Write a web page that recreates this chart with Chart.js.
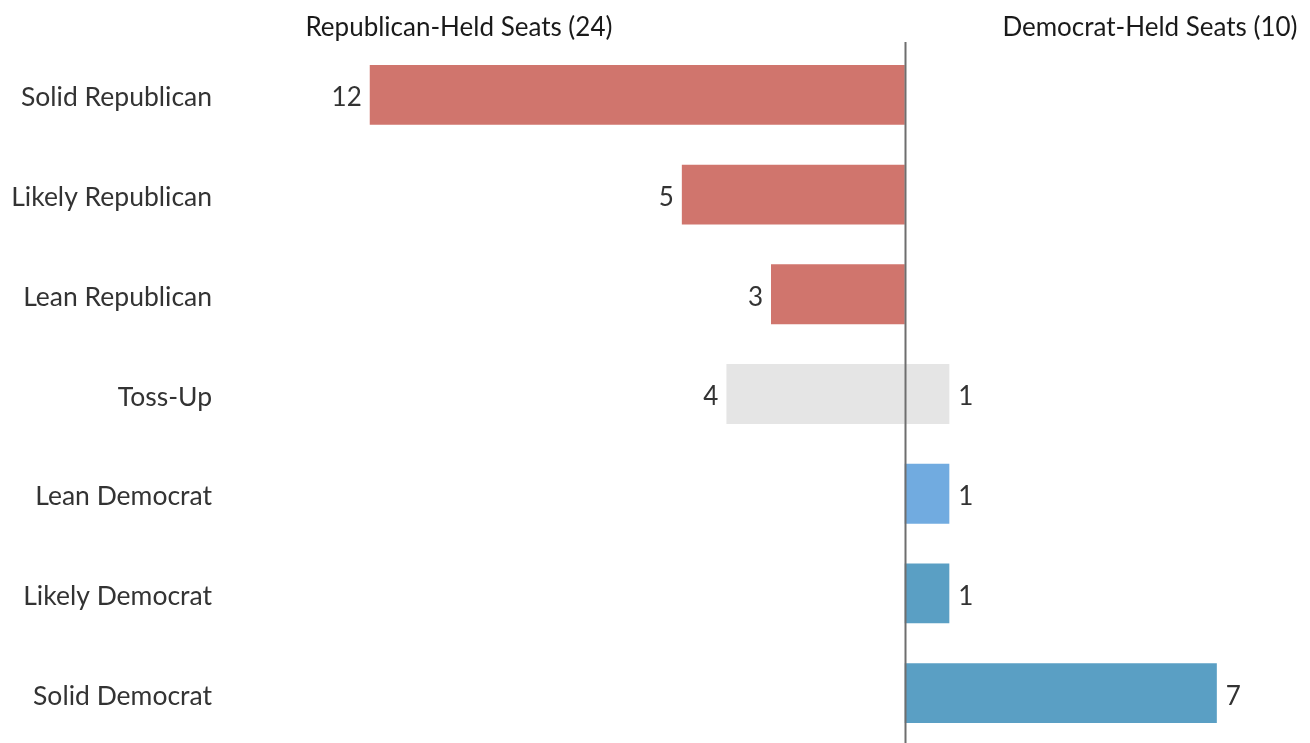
<!DOCTYPE html>
<html lang="en">
<head>
    <meta charset="UTF-8">
    <title>Seat ratings</title>
    <script src="https://cdn.jsdelivr.net/npm/chart.js"></script>
    <style>
        html, body {
            margin: 0;
            padding: 0;
            background: #ffffff;
        }
        .chart-box {
            width: 1310px;
            height: 743px;
        }
    </style>
</head>
<body>
    <div class="chart-box">
        <canvas id="seatsChart"></canvas>
    </div>

    <script>
        // Race ratings, top to bottom
        const ratings = ['Solid Republican', 'Likely Republican', 'Lean Republican', 'Toss-Up',
                         'Lean Democrat', 'Likely Democrat', 'Solid Democrat'];

        // Seats held by each party in every rating (Republican side is plotted to the left)
        const republicanHeld = [12, 5, 3, 4, 0, 0, 0];
        const democratHeld = [0, 0, 0, 1, 1, 1, 7];

        const republicanTitle = 'Republican-Held Seats (24)';
        const democratTitle = 'Democrat-Held Seats (10)';

        const ratingColors = ['#d0756d', '#d0756d', '#d0756d', '#e5e5e5', '#71abe0', '#5a9fc4', '#5a9fc4'];

        const fontFamily = 'Lato, "Open Sans", sans-serif';
        const fontSize = 26;

        // value labels at the end of each bar, zero axis line and the two side headings
        const sideLabels = {
            id: 'sideLabels',
            afterDatasetsDraw(chart) {
                const ctx = chart.ctx;
                const xScale = chart.scales.x;
                const area = chart.chartArea;
                ctx.save();
                ctx.font = fontSize + 'px ' + fontFamily;
                ctx.fillStyle = '#333333';
                ctx.textBaseline = 'middle';

                chart.data.datasets.forEach((ds, di) => {
                    const meta = chart.getDatasetMeta(di);
                    meta.data.forEach((bar, i) => {
                        const v = ds.data[i];
                        if (!v) return;
                        if (v < 0) {
                            ctx.textAlign = 'right';
                            ctx.fillText(String(-v), bar.x - 8, bar.y + 3);
                        } else {
                            ctx.textAlign = 'left';
                            ctx.fillText(String(v), bar.x + 9, bar.y + 3);
                        }
                    });
                });

                // zero line
                const x0 = Math.round(xScale.getPixelForValue(0)) + 0.5;
                ctx.strokeStyle = '#6e6e6e';
                ctx.lineWidth = 2;
                ctx.beginPath();
                ctx.moveTo(x0, area.top - 3);
                ctx.lineTo(x0, chart.height);
                ctx.stroke();

                // headings
                ctx.fillStyle = '#1a1a1a';
                ctx.textAlign = 'center';
                ctx.fillText(republicanTitle, xScale.getPixelForValue(-10), 28);
                ctx.fillText(democratTitle, xScale.getPixelForValue(5.5), 28);
                ctx.restore();
            }
        };

        new Chart(document.getElementById('seatsChart'), {
            type: 'bar',
            data: {
                labels: ratings,
                datasets: [
                    {
                        label: 'Republican-held',
                        data: republicanHeld.map(v => -v),
                        backgroundColor: ratingColors,
                        barPercentage: 0.6,
                        categoryPercentage: 1
                    },
                    {
                        label: 'Democrat-held',
                        data: democratHeld,
                        backgroundColor: ratingColors,
                        barPercentage: 0.6,
                        categoryPercentage: 1
                    }
                ]
            },
            options: {
                indexAxis: 'y',
                responsive: true,
                maintainAspectRatio: false,
                animation: false,
                layout: {
                    padding: { top: 45, right: 4, bottom: 0, left: 0 }
                },
                plugins: {
                    legend: { display: false },
                    tooltip: { enabled: false }
                },
                scales: {
                    x: {
                        stacked: true,
                        min: -15,
                        max: 9,
                        display: false
                    },
                    y: {
                        stacked: true,
                        grid: { display: false },
                        border: { display: false },
                        ticks: {
                            color: '#333333',
                            padding: 16,
                            labelOffset: 3,
                            font: { family: fontFamily, size: 26.5 }
                        },
                        afterFit(scale) {
                            scale.width = 236;
                            scale.paddingTop = 0;
                            scale.paddingBottom = 0;
                        }
                    }
                }
            },
            plugins: [sideLabels]
        });
    </script>
</body>
</html>
